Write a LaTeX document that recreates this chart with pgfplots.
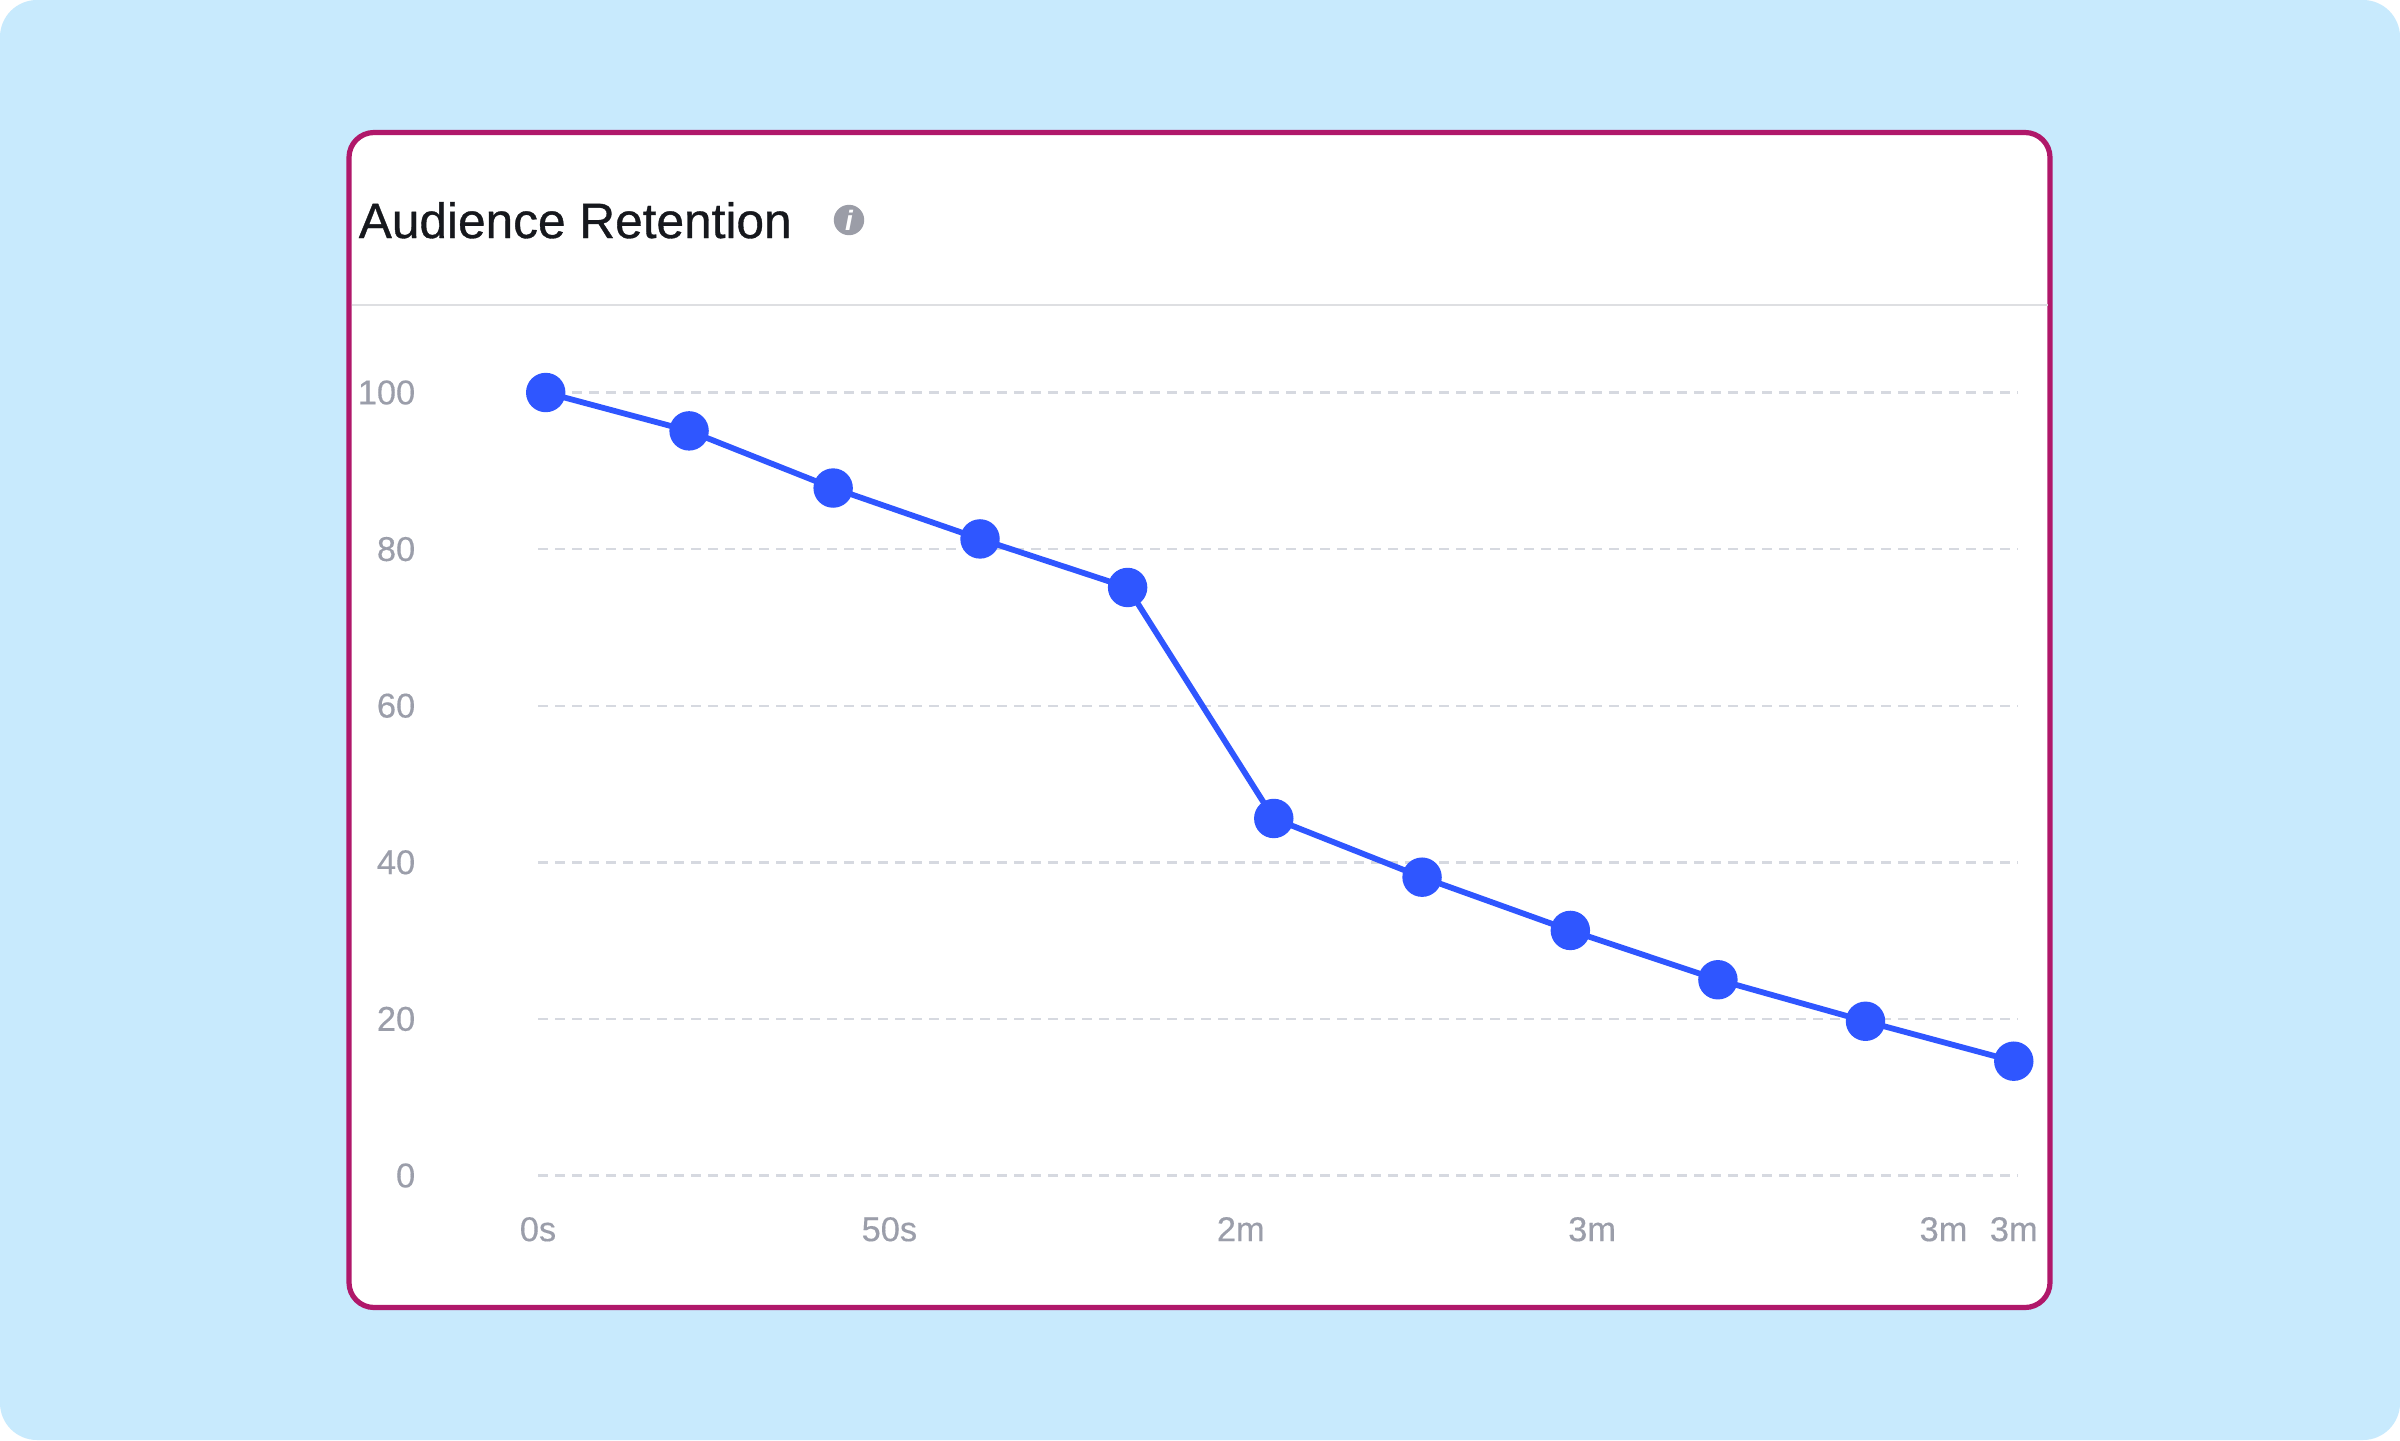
\documentclass[border=0pt]{standalone}
\usepackage{pgfplots}
\pgfplotsset{compat=1.18}
\usepackage{fontspec}
\setmainfont{Liberation Sans}
\newfontfamily\titlefont[FakeBold=0.7]{Liberation Sans}
\newfontfamily\tickfont[FakeBold=0.3]{Liberation Sans}
\definecolor{bgblue}{HTML}{C8EAFD}
\definecolor{cardborder}{HTML}{B0186A}
\definecolor{sepgray}{HTML}{DEDFE2}
\definecolor{titleblack}{HTML}{16181D}
\definecolor{infogray}{HTML}{9B9DA7}
\definecolor{ticklab}{HTML}{9B9EAA}
\definecolor{gridc}{HTML}{D6D9E0}
\definecolor{lineblue}{HTML}{2F56FF}
\begin{document}
\begin{tikzpicture}
\begin{scope}[x=0.25pt,y=0.25pt]
\fill[white] (0,0) rectangle (2400,1440);
\fill[bgblue, rounded corners=9.25pt] (0,0) rectangle (2400,1440);
\draw[cardborder, line width=1.3pt, fill=white, rounded corners=6.25pt] (349,132.5) rectangle (2050,1307.5);
\draw[sepgray, line width=0.5pt] (351.5,1135) -- (2047.5,1135);
\node[anchor=base west, inner sep=0pt, font=\titlefont\fontsize{12.4}{14}\selectfont, text=titleblack] at (358,1202) {Audience Retention};
\fill[infogray] (849,1220) circle (3.8pt);
\node[text=white, inner sep=0pt, font=\fontsize{7}{8}\selectfont\bfseries\itshape] at (849,1220) {i};
\end{scope}
\begin{axis}[
  at={(134.5pt,66.125pt)}, anchor=south west,
  scale only axis, width=370pt, height=195.75pt,
  xmin=0, xmax=210.6, ymin=0, ymax=100,
  clip=false,
  axis line style={draw=none},
  tick style={draw=none},
  xtick={0,50,100,150,200,210},
  xticklabels={0s,50s,2m,3m,3m,3m},
  ytick={0,20,40,60,80,100},
  ymajorgrids,
  grid style={gridc, line width=0.6pt, dash pattern=on 2.5pt off 1.75pt},
  tick label style={font=\tickfont\fontsize{8.6}{9}\selectfont, text=ticklab},
  /pgf/number format/assume math mode=true,
  xticklabel style={anchor=north, inner sep=0pt, yshift=-10.2pt},
  yticklabel style={anchor=east, inner sep=0pt, xshift=-30.5pt},
]
\addplot[lineblue, line width=1.45pt, mark=*, mark size=4.2pt, mark options={fill=lineblue, draw=lineblue}]
coordinates {
(1.1,100) (21.5,95.1) (42.0,87.8) (62.9,81.3) (83.9,75.1) (104.7,45.6)
(125.8,38.1) (146.9,31.3) (167.9,25.0) (188.9,19.7) (210,14.6)
};
\end{axis}
\end{tikzpicture}
\end{document}
